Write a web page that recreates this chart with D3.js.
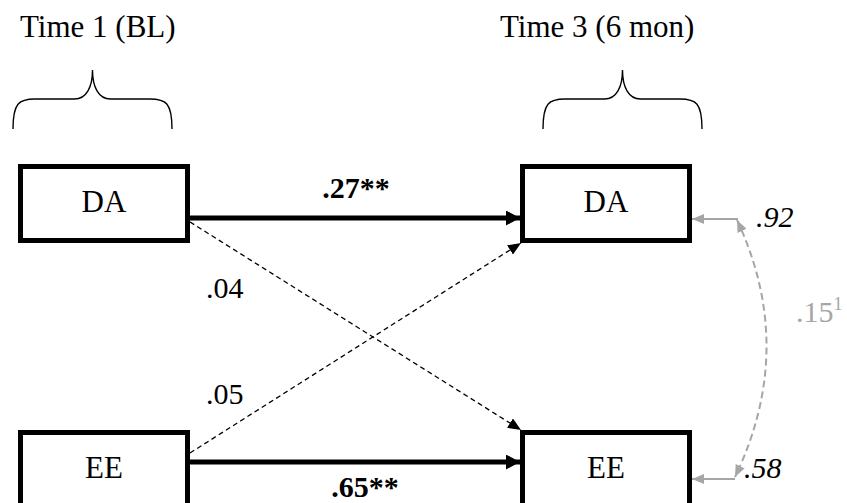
<!DOCTYPE html>
<html>
<head>
<meta charset="utf-8">
<script src="https://cdn.jsdelivr.net/npm/d3@7"></script>
<style>
  body { margin: 0; background: #fff; }
</style>
</head>
<body>
<div id="chart"></div>
<script>
// model values
var timeLabels = ["Time 1 (BL)", "Time 3 (6 mon)"];
var variables = ["DA", "EE"];
var pathFrom = [0, 1, 0, 1];          // row at Time 1
var pathTo = [0, 1, 1, 0];            // row at Time 3
var pathCoefs = [".27", ".65", ".04", ".05"];
var pathStars = ["**", "**", "", ""];
var residuals = [".92", ".58"];
var residualCov = ".15";
var covNote = "1";

var width = 847, height = 503;
var boxW = 172, boxH = 79, stroke = 5;
var grey = "#a6a6a6";
var serif = "'Liberation Serif', 'Times New Roman', serif";

var svg = d3.select("#chart").append("svg")
    .attr("width", width).attr("height", height)
    .attr("font-family", serif);

// column -> left edge of box, row -> top edge of box
var xCol = d3.scaleLinear().domain([0, 1]).range([18, 520]);
var yRow = d3.scaleLinear().domain([0, 1]).range([164, 430]);
// where the paths leave / enter a box, relative to box top
var arrowOff = d3.scaleLinear().domain([0, 1]).range([54, 32]);
var diagOff = d3.scaleLinear().domain([0, 1]).range([58, 23]);

var defs = svg.append("defs");
function marker(id, len, wid, fill) {
    defs.append("marker")
        .attr("id", id)
        .attr("viewBox", "0 0 " + len + " " + wid)
        .attr("refX", len).attr("refY", wid / 2)
        .attr("markerWidth", len).attr("markerHeight", wid)
        .attr("markerUnits", "userSpaceOnUse")
        .attr("orient", "auto-start-reverse")
      .append("path")
        .attr("d", "M0,0L" + len + "," + (wid / 2) + "L0," + wid + "Z")
        .attr("fill", fill);
}
marker("headBig", 14, 15, "#000");
marker("headSmall", 13, 11, "#000");
marker("headGrey", 12, 10, grey);

// time labels and braces
timeLabels.forEach(function(t, i) {
    var x0 = i == 0 ? 13 : 543;
    var x1 = x0 + 159;
    var xm = (x0 + x1) / 2;
    svg.append("text")
        .attr("x", i == 0 ? 20 : 500).attr("y", 37)
        .attr("font-family", serif)
        .attr("font-size", 31)
        .text(t);
    var yTop = 70, yMid = 99, yEnd = 129;
    var b = d3.path();
    b.moveTo(x0, yEnd);
    b.bezierCurveTo(x0, yMid + 4, x0 + 6, yMid, x0 + 22, yMid);
    b.lineTo(xm - 18, yMid);
    b.bezierCurveTo(xm - 6, yMid, xm, yMid - 12, xm, yTop);
    b.bezierCurveTo(xm, yMid - 12, xm + 6, yMid, xm + 18, yMid);
    b.lineTo(x1 - 22, yMid);
    b.bezierCurveTo(x1 - 6, yMid, x1, yMid + 4, x1, yEnd);
    svg.append("path")
        .attr("d", b.toString())
        .attr("fill", "none").attr("stroke", "#000").attr("stroke-width", 1.4);
});

// boxes
var cells = [];
[0, 1].forEach(function(c) {
    variables.forEach(function(v, r) { cells.push({ col: c, row: r, name: v }); });
});
var box = svg.selectAll(".box").data(cells).enter().append("g").attr("class", "box");
box.append("rect")
    .attr("x", function(d) { return xCol(d.col) + stroke / 2; })
    .attr("y", function(d) { return yRow(d.row) + stroke / 2; })
    .attr("width", boxW - stroke).attr("height", boxH - stroke)
    .attr("fill", "#fff").attr("stroke", "#000").attr("stroke-width", stroke);
box.append("text")
    .attr("x", function(d) { return xCol(d.col) + boxW / 2; })
    .attr("y", function(d) { return yRow(d.row) + 48; })
    .attr("text-anchor", "middle")
    .attr("font-family", serif).attr("font-size", 31)
    .text(function(d) { return d.name; });

// paths
pathCoefs.forEach(function(coef, i) {
    var a = pathFrom[i], b = pathTo[i];
    var x0 = xCol(0) + boxW, x1 = xCol(1);
    if (a == b) {
        var y = yRow(a) + arrowOff(a);
        svg.append("line")
            .attr("x1", x0).attr("y1", y).attr("x2", x1).attr("y2", y)
            .attr("stroke", "#000").attr("stroke-width", 5)
            .attr("marker-end", "url(#headBig)");
        svg.append("text")
            .attr("x", a == 0 ? 356 : 365)
            .attr("y", a == 0 ? y - 20 : y + 35)
            .attr("text-anchor", "middle")
            .attr("font-family", serif)
            .attr("font-size", 30).attr("font-weight", "bold")
            .text(coef + pathStars[i]);
    } else {
        var y0 = yRow(a) + diagOff(a);
        var y1 = b == 1 ? yRow(b) : yRow(b) + boxH;
        svg.append("line")
            .attr("x1", x0).attr("y1", y0).attr("x2", x1 + 1).attr("y2", y1)
            .attr("stroke", "#000").attr("stroke-width", 1.3)
            .attr("stroke-dasharray", "5,3.5")
            .attr("marker-end", "url(#headSmall)");
        svg.append("text")
            .attr("x", 206)
            .attr("y", a == 0 ? 298 : 404)
            .attr("font-family", serif)
            .attr("font-size", 30)
            .text(coef + pathStars[i]);
    }
});

// residuals
var resY = [219, 479];
residuals.forEach(function(r, i) {
    var xs = i == 0 ? 738 : 735;
    svg.append("line")
        .attr("x1", xs).attr("y1", resY[i]).attr("x2", xCol(1) + boxW).attr("y2", resY[i])
        .attr("stroke", grey).attr("stroke-width", 2)
        .attr("marker-end", "url(#headGrey)");
    svg.append("text")
        .attr("x", i == 0 ? 756 : 744)
        .attr("y", i == 0 ? 227 : 478)
        .attr("font-family", serif)
        .attr("font-size", 30).attr("font-style", "italic")
        .text(r);
});

// residual covariance arc
var arc = d3.path();
arc.moveTo(737, 220);
arc.quadraticCurveTo(797, 348, 735, 477);
svg.append("path")
    .attr("d", arc.toString())
    .attr("fill", "none").attr("stroke", grey).attr("stroke-width", 2)
    .attr("stroke-dasharray", "7,4")
    .attr("marker-start", "url(#headGrey)")
    .attr("marker-end", "url(#headGrey)");
var cov = svg.append("text")
    .attr("x", 796).attr("y", 322)
    .attr("font-family", serif)
    .attr("font-size", 30).attr("fill", grey)
    .text(residualCov);
cov.append("tspan")
    .attr("font-size", 18).attr("dy", -12)
    .text(covNote);
</script>
</body>
</html>
